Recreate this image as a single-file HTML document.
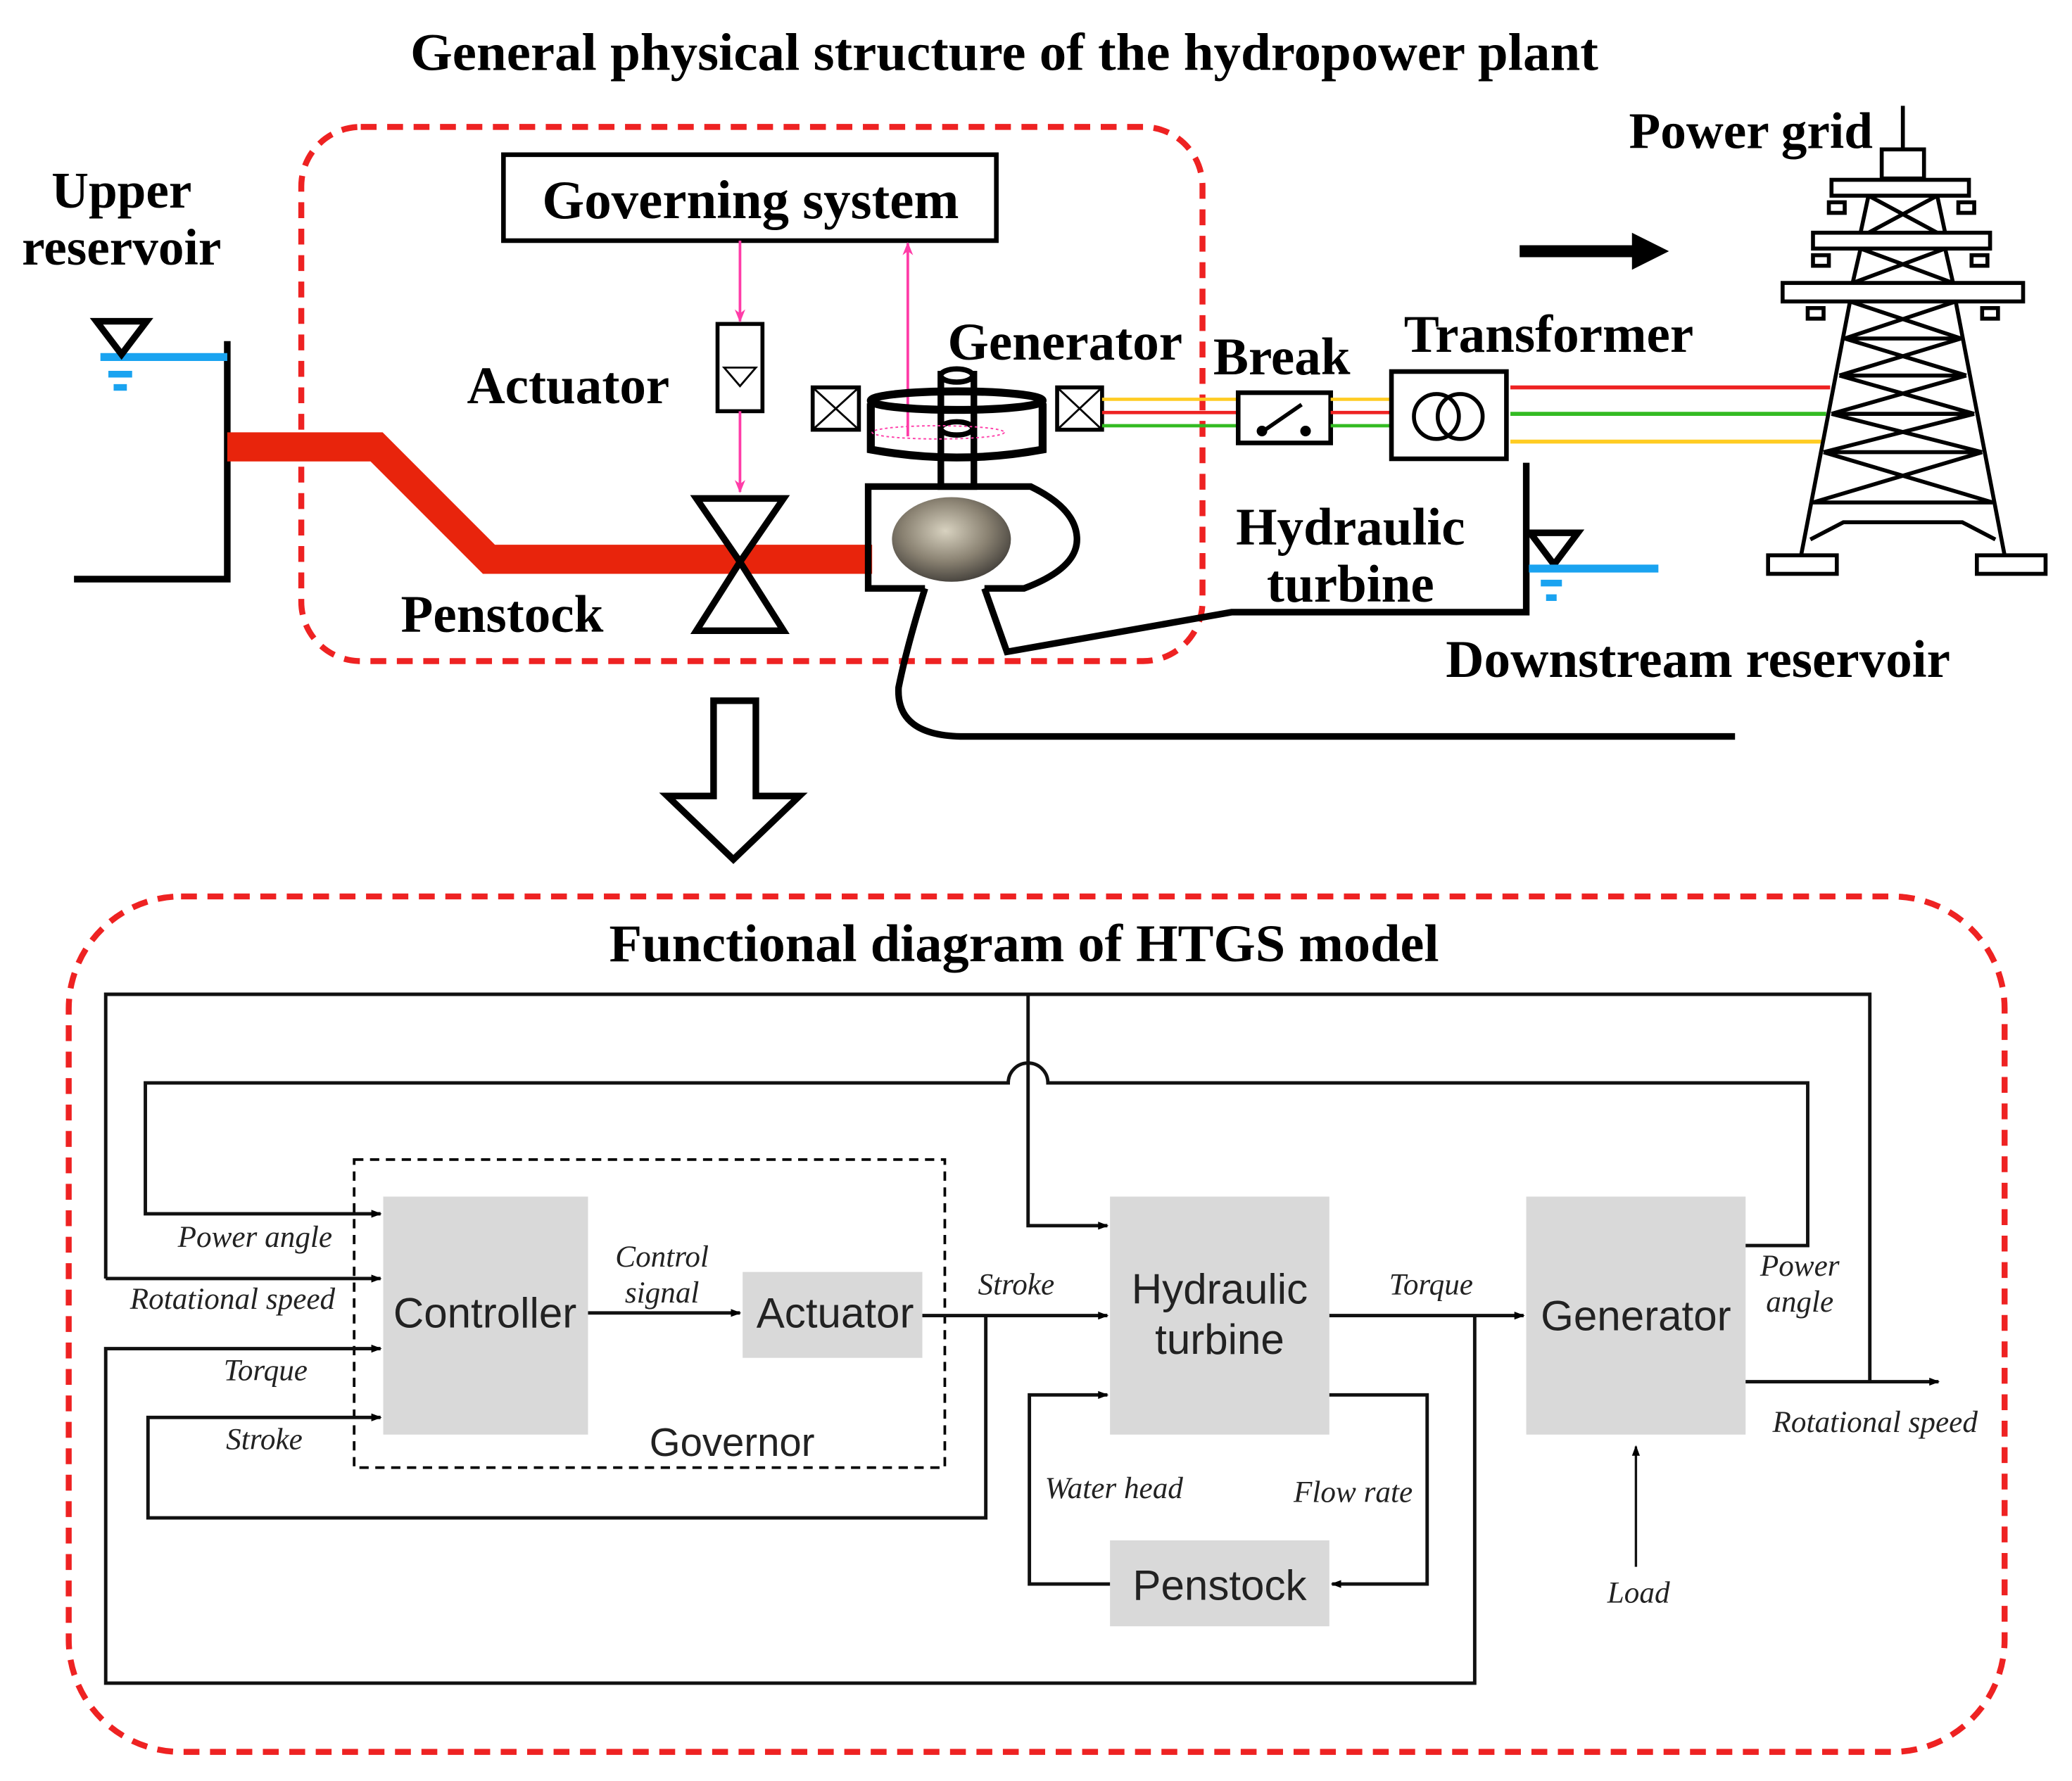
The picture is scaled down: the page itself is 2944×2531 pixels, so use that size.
<!DOCTYPE html>
<html><head><meta charset="utf-8"><style>html,body{margin:0;padding:0;background:#fff}svg{display:block}</style></head>
<body>
<svg width="2944" height="2531" viewBox="0 0 1568 1347" preserveAspectRatio="none" xmlns="http://www.w3.org/2000/svg">
<defs>
<marker id="a" markerWidth="8" markerHeight="8" refX="7" refY="4" orient="auto" markerUnits="userSpaceOnUse"><path d="M0,1 L8,4 L0,7 z" fill="#000"/></marker>
<marker id="p" markerWidth="10" markerHeight="10" refX="9" refY="5" orient="auto" markerUnits="userSpaceOnUse"><path d="M0,1 L10,5 L0,9 L3,5 z" fill="#ff3ca8"/></marker>
<radialGradient id="tg" cx="0.45" cy="0.4" r="0.6"><stop offset="0" stop-color="#d8d2c0"/><stop offset="0.6" stop-color="#8a8272"/><stop offset="1" stop-color="#4a4640"/></radialGradient>
</defs>
<g font-family="Liberation Serif, serif" font-weight="bold" fill="#000" text-anchor="middle">
<text x="760" y="53" font-size="40" textLength="899" lengthAdjust="spacingAndGlyphs">General physical structure of the hydropower plant</text>
<text x="568" y="165" font-size="41">Governing system</text>
<text x="92" y="157" font-size="39">Upper</text>
<text x="92" y="200" font-size="39">reservoir</text>
<text x="430" y="305" font-size="40">Actuator</text>
<text x="380" y="478" font-size="40">Penstock</text>
<text x="806" y="272" font-size="40">Generator</text>
<text x="970" y="283" font-size="40">Break</text>
<text x="1172" y="266" font-size="40">Transformer</text>
<text x="1022" y="412" font-size="40">Hydraulic</text>
<text x="1022" y="455" font-size="40">turbine</text>
<text x="1285" y="512" font-size="40">Downstream reservoir</text>
<text x="1325" y="112" font-size="39">Power grid</text>
<text x="775" y="727" font-size="40" textLength="628" lengthAdjust="spacingAndGlyphs">Functional diagram of HTGS model</text>
</g>
<rect x="228" y="96" width="682" height="404" rx="45" fill="none" stroke="#ee2222" stroke-width="4.5" stroke-dasharray="12 8"/>
<rect x="381" y="117" width="373" height="65" fill="none" stroke="#000" stroke-width="3.5"/>
<polyline points="172,258 172,438 56,438" fill="none" stroke="#000" stroke-width="5"/>
<line x1="76" y1="270" x2="172" y2="270" stroke="#1aa3f0" stroke-width="6"/>
<polygon points="73,243 111,243 92,268" fill="#fff" stroke="#000" stroke-width="5"/>
<line x1="82" y1="283" x2="100" y2="283" stroke="#1aa3f0" stroke-width="5"/>
<line x1="86" y1="293" x2="96" y2="293" stroke="#1aa3f0" stroke-width="5"/>
<polyline points="172,338 285,338 370,423 660,423" fill="none" stroke="#e8240c" stroke-width="22"/>
<polygon points="527,377 593,377 560,425" fill="#fff" stroke="#000" stroke-width="5"/>
<polygon points="527,477 593,477 560,425" fill="#fff" stroke="#000" stroke-width="5"/>
<rect x="543" y="245" width="34" height="66" fill="#fff" stroke="#000" stroke-width="3"/>
<polygon points="548,278 572,278 560,292" fill="none" stroke="#000" stroke-width="1.5"/>
<line x1="560" y1="182" x2="560" y2="243" stroke="#ff3ca8" stroke-width="2" marker-end="url(#p)"/>
<line x1="560" y1="311" x2="560" y2="372" stroke="#ff3ca8" stroke-width="2" marker-end="url(#p)"/>
<line x1="687" y1="330" x2="687" y2="184" stroke="#ff3ca8" stroke-width="2" marker-end="url(#p)"/>
<rect x="615" y="293" width="35" height="32" fill="#fff" stroke="#000" stroke-width="3"/>
<path d="M615,293 L650,325 M650,293 L615,325" stroke="#000" stroke-width="1.5"/>
<rect x="800" y="293" width="34" height="32" fill="#fff" stroke="#000" stroke-width="3"/>
<path d="M800,293 L834,325 M834,293 L800,325" stroke="#000" stroke-width="1.5"/>
<path d="M659,305 L659,340 Q724,352 789,340 L789,305" fill="none" stroke="#000" stroke-width="6"/>
<ellipse cx="724" cy="303" rx="65" ry="7" fill="none" stroke="#000" stroke-width="6"/>
<rect x="712" y="283" width="25" height="85" fill="none" stroke="#000" stroke-width="5"/>
<ellipse cx="724" cy="284" rx="12" ry="5" fill="#fff" stroke="#000" stroke-width="4"/>
<ellipse cx="724" cy="324" rx="12" ry="5" fill="#fff" stroke="#000" stroke-width="4"/>
<ellipse cx="710" cy="327" rx="50" ry="5" fill="none" stroke="#ff3ca8" stroke-width="1" stroke-dasharray="2 2"/>
<path d="M700,445 L657,445 L657,368 L780,368 Q815,385 815,408 Q815,430 775,445 L745,445" fill="none" stroke="#000" stroke-width="5"/>
<ellipse cx="720" cy="408" rx="45" ry="32" fill="url(#tg)"/>
<path d="M700,445 Q686,490 680,520 Q678,557 730,557 L1313,557" fill="none" stroke="#000" stroke-width="5"/>
<polyline points="745,445 762,493 932,463 1155,463 1155,350" fill="none" stroke="#000" stroke-width="5"/>
<line x1="834" y1="302" x2="937" y2="302" stroke="#ffcc22" stroke-width="2.5"/>
<line x1="834" y1="312" x2="937" y2="312" stroke="#ee2222" stroke-width="2.5"/>
<line x1="834" y1="322" x2="937" y2="322" stroke="#33bb22" stroke-width="2.5"/>
<rect x="937" y="297" width="70" height="38" fill="#fff" stroke="#000" stroke-width="3.5"/>
<line x1="956" y1="326" x2="985" y2="306" stroke="#000" stroke-width="3"/>
<circle cx="955" cy="326" r="4" fill="#000"/><circle cx="988" cy="326" r="4" fill="#000"/>
<line x1="1007" y1="302" x2="1053" y2="302" stroke="#ffcc22" stroke-width="2.5"/>
<line x1="1007" y1="312" x2="1053" y2="312" stroke="#ee2222" stroke-width="2.5"/>
<line x1="1007" y1="322" x2="1053" y2="322" stroke="#33bb22" stroke-width="2.5"/>
<rect x="1053" y="281" width="87" height="66" fill="#fff" stroke="#000" stroke-width="3.5"/>
<circle cx="1087" cy="315" r="17" fill="none" stroke="#000" stroke-width="3"/>
<circle cx="1105" cy="315" r="17" fill="none" stroke="#000" stroke-width="3"/>
<line x1="1143" y1="293" x2="1385" y2="293" stroke="#ee2222" stroke-width="3"/>
<line x1="1143" y1="313" x2="1382" y2="313" stroke="#33bb22" stroke-width="3"/>
<line x1="1143" y1="334" x2="1380" y2="334" stroke="#ffcc22" stroke-width="3"/>
<line x1="1150" y1="190" x2="1240" y2="190" stroke="#000" stroke-width="9"/>
<polygon points="1235,176 1263,190 1235,204" fill="#000"/>
<polygon points="1158,403 1194,403 1176,427" fill="#fff" stroke="#000" stroke-width="5"/>
<line x1="1157" y1="430" x2="1255" y2="430" stroke="#1aa3f0" stroke-width="6"/>
<line x1="1166" y1="441" x2="1182" y2="441" stroke="#1aa3f0" stroke-width="5"/>
<line x1="1170" y1="452" x2="1178" y2="452" stroke="#1aa3f0" stroke-width="5"/>
<g fill="none" stroke="#000" stroke-width="3">
<line x1="1440" y1="80" x2="1440" y2="112"/>
<rect x="1424" y="113" width="32" height="22"/>
<rect x="1386" y="136" width="104" height="12"/>
<rect x="1372" y="176" width="134" height="12"/>
<rect x="1349" y="214" width="182" height="14"/>
<rect x="1384" y="153" width="12" height="8"/><rect x="1482" y="153" width="12" height="8"/>
<rect x="1372" y="193" width="12" height="8"/><rect x="1492" y="193" width="12" height="8"/>
<rect x="1368" y="233" width="12" height="8"/><rect x="1500" y="233" width="12" height="8"/>
<path d="M1414,148 L1408,176 M1466,148 L1472,176 M1414,148 L1466,176 M1466,148 L1414,176"/>
<path d="M1408,188 L1402,214 M1472,188 L1478,214 M1408,188 L1478,214 M1472,188 L1402,214"/>
<path d="M1400,228 L1363,420 M1480,228 L1517,420"/>
<path d="M1396,256 L1484,256 M1392,284 L1488,284 M1386,313 L1494,313 M1380,342 L1500,342 M1372,380 L1508,380"/>
<path d="M1400,228 L1484,256 M1480,228 L1396,256 M1396,256 L1488,284 M1484,256 L1392,284 M1392,284 L1494,313 M1488,284 L1386,313 M1386,313 L1500,342 M1494,313 L1380,342 M1380,342 L1508,380 M1500,342 L1372,380"/>
<path d="M1370,408 L1395,395 L1485,395 L1510,408"/>
<rect x="1338" y="420" width="52" height="14"/><rect x="1496" y="420" width="52" height="14"/>
</g>
<polygon points="540,530 572,530 572,602 605,602 555,650 505,602 540,602" fill="#fff" stroke="#000" stroke-width="5"/>

<rect x="52" y="678" width="1465" height="647" rx="85" fill="none" stroke="#ee2222" stroke-width="4.5" stroke-dasharray="12 8"/>
<g fill="#d9d9d9">
<rect x="290" y="905" width="155" height="180"/>
<rect x="562" y="962" width="136" height="65"/>
<rect x="840" y="905" width="166" height="180"/>
<rect x="1155" y="905" width="166" height="180"/>
<rect x="840" y="1165" width="166" height="65"/>
</g>
<rect x="268" y="877" width="447" height="233" fill="none" stroke="#000" stroke-width="2" stroke-dasharray="7 5"/>
<g fill="none" stroke="#111" stroke-width="2.6">
<polyline points="80,967 80,752 1415,752 1415,1045"/>
<line x1="80" y1="967" x2="288" y2="967" marker-end="url(#a)"/>
<polyline points="778,752 778,927 838,927" marker-end="url(#a)"/>
<path d="M1321,942 H1368 V819 H793 A15,15 0 0 0 763,819 H110 V918 H288" marker-end="url(#a)"/>
<line x1="1321" y1="1045" x2="1467" y2="1045" marker-end="url(#a)"/>
<line x1="1006" y1="995" x2="1153" y2="995" marker-end="url(#a)"/>
<polyline points="1116,995 1116,1273 80,1273 80,1020 288,1020" marker-end="url(#a)"/>
<line x1="698" y1="995" x2="838" y2="995" marker-end="url(#a)"/>
<polyline points="746,995 746,1148 112,1148 112,1072 288,1072" marker-end="url(#a)"/>
<line x1="445" y1="993" x2="560" y2="993" marker-end="url(#a)"/>
<polyline points="1006,1055 1080,1055 1080,1198 1008,1198" marker-end="url(#a)"/>
<polyline points="840,1198 779,1198 779,1055 838,1055" marker-end="url(#a)"/>
<line x1="1238" y1="1185" x2="1238" y2="1094" stroke-width="1.8" marker-end="url(#a)"/>
</g>
<g font-family="Liberation Sans, sans-serif" fill="#222" text-anchor="middle" font-size="32">
<text x="367" y="1004">Controller</text>
<text x="632" y="1004">Actuator</text>
<text x="923" y="986">Hydraulic</text>
<text x="923" y="1024">turbine</text>
<text x="1238" y="1006">Generator</text>
<text x="923" y="1210">Penstock</text>
<text x="554" y="1101" font-size="30">Governor</text>
</g>
<g font-family="Liberation Serif, serif" font-style="italic" fill="#222" text-anchor="middle" font-size="23">
<text x="193" y="943">Power angle</text>
<text x="176" y="990">Rotational speed</text>
<text x="201" y="1044">Torque</text>
<text x="200" y="1096">Stroke</text>
<text x="501" y="958">Control</text>
<text x="501" y="985">signal</text>
<text x="769" y="979">Stroke</text>
<text x="1083" y="979">Torque</text>
<text x="1362" y="965">Power</text>
<text x="1362" y="992">angle</text>
<text x="1419" y="1083">Rotational speed</text>
<text x="843" y="1133">Water head</text>
<text x="1024" y="1136">Flow rate</text>
<text x="1240" y="1212">Load</text>
</g>
</svg>
</body></html>
